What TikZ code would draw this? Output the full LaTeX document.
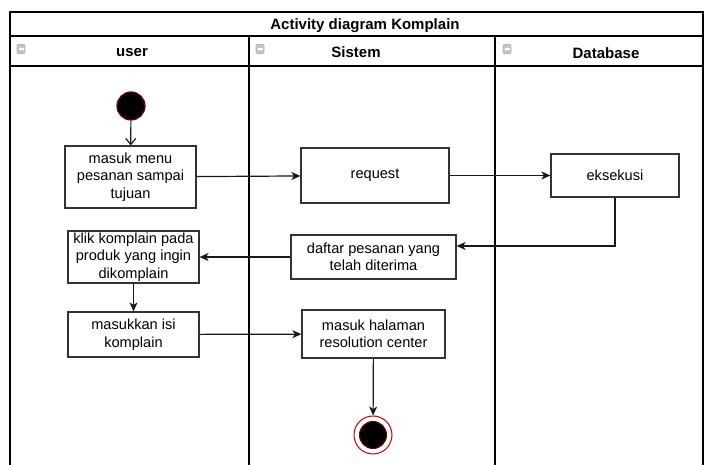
\documentclass[tikz,border=0pt]{standalone}
\usepackage{fontspec}
\setmainfont{Liberation Sans}
\usetikzlibrary{arrows.meta}

\begin{document}
\begin{tikzpicture}[x=1pt,y=-1pt,
  frame/.style={line width=2.4pt, black},
  act/.style={draw=black!80, line width=1.2pt, fill=white, align=center,
    inner sep=0pt, font=\fontsize{14.6}{17.5}\selectfont},
  hdr/.style={font=\bfseries\fontsize{15}{18}\selectfont, inner sep=0pt},
  icon/.style={draw=gray!60, fill=gray!45, line width=0.6pt,
    minimum width=8pt, minimum height=9pt, inner sep=0pt, rounded corners=1pt},
  flow/.style={draw=black!90, line width=1.2pt,
    -{Stealth[length=9pt,width=8pt,inset=2.5pt]}},
  openflow/.style={draw=black!90, line width=1.2pt,
    -{Straight Barb[length=6pt,width=10pt]}},
  startdot/.style={circle, fill=black, draw=red!45!black, line width=1.2pt,
    minimum size=28pt, inner sep=0pt}
]
\useasboundingbox (0,0) rectangle (705,465);

% swimlane frame
\draw[frame] (10,465) -- (10,12) -- (703,12) -- (703,465);
\draw[frame] (10,36) -- (703,36);
\draw[frame] (10,66) -- (703,66);
\draw[frame] (249,36) -- (249,465);
\draw[frame] (495,36) -- (495,465);

% titles
\node[hdr] (title) at (365,26) {Activity diagram Komplain};
\node[hdr] (huser) at (132,53) {user};
\node[hdr] (hsis) at (356,52) {Sistem};
\node[hdr] (hdb) at (606,53) {Database};

% collapse icons
\foreach \ix/\nm in {21/iu,260/is,507/id}{
  \node[icon] (\nm) at (\ix,49) {};
  \draw[white, line width=1.2pt] ([xshift=-2.5pt]\nm.center) -- ([xshift=2.5pt]\nm.center);
}

% activities
\node[startdot] (start) at (131,106) {};
\node[act, minimum width=131pt, minimum height=62pt] (menu) at (130.5,177)
  {masuk menu\\pesanan sampai\\tujuan};
\node[act, minimum width=148pt, minimum height=55pt] (req) at (375,175.5) {request};
\node[act, minimum width=128pt, minimum height=43pt] (eks) at (615,175.5) {eksekusi};
\node[act, minimum width=165pt, minimum height=44pt] (daftar) at (373.5,257)
  {daftar pesanan yang\\telah diterima};
\node[act, minimum width=131pt, minimum height=52pt] (klik) at (133.5,257)
  {klik komplain pada\\produk yang ingin\\dikomplain};
\node[act, minimum width=131pt, minimum height=45pt] (isi) at (133.5,334.5)
  {masukkan isi\\komplain};
\node[act, minimum width=143pt, minimum height=48pt] (hal) at (373.5,334)
  {masuk halaman\\resolution center};

% final node
\node[circle, draw=red!80!black, line width=1pt, fill=white,
  minimum size=38pt, inner sep=0pt] (end) at (373,435) {};
\node[startdot, minimum size=27pt, line width=1pt] (endin) at (end.center) {};

% control flow
\draw[openflow] (start) -- (menu);
\draw[flow] (menu) -- (req);
\draw[flow] (req) -- (eks);
\draw[flow] (eks.south) |- ([yshift=11pt]daftar.east);
\draw[flow] (daftar) -- (klik);
\draw[flow] (klik) -- (isi);
\draw[flow] (isi) -- (hal);
\draw[flow] (hal) -- (end);
\end{tikzpicture}
\end{document}
